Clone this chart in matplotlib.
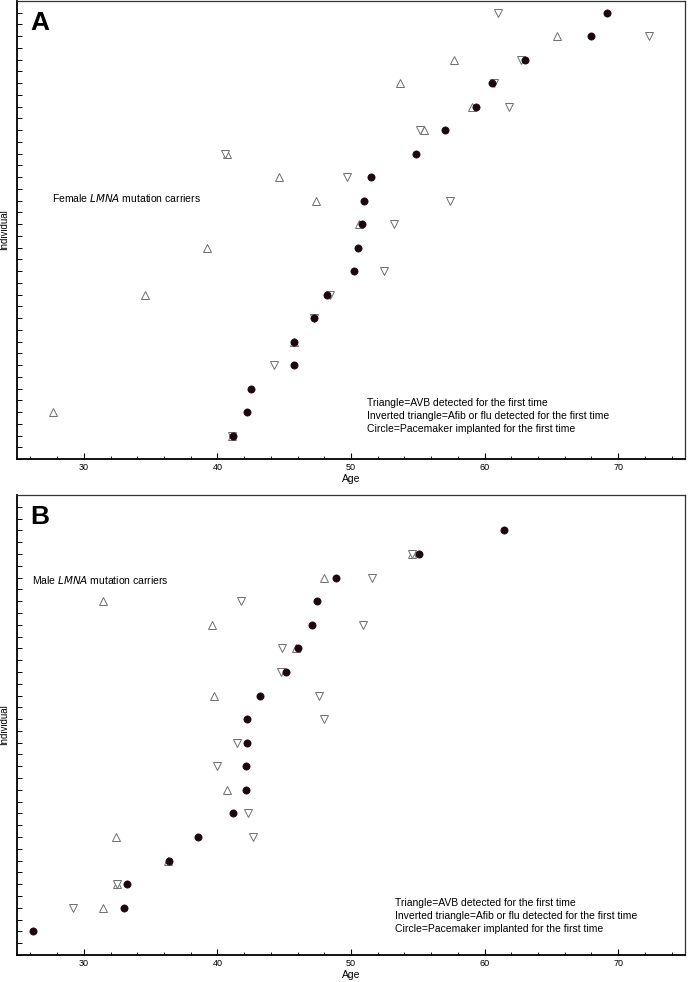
import matplotlib
matplotlib.use("Agg")
import matplotlib.pyplot as plt
from matplotlib.ticker import MultipleLocator

plt.rcParams.update({
    "font.family": ["Liberation Sans", "DejaVu Sans"],
    "font.size": 7.5,
})

# ---- data: individual index (1 = bottom row) and age at first event ----
# Female carriers (panel A)
F_AVB_ID = [1, 2, 5, 7, 9, 10, 11, 12, 13, 14, 15, 16, 17, 18]
F_AVB_AGE = [41.1, 27.7, 45.7, 34.6, 39.2, 50.6, 47.4, 44.6, 40.72, 55.5, 59.06, 53.7, 57.7, 65.4]
F_AFIB_ID = [1, 4, 6, 7, 8, 10, 11, 12, 13, 14, 15, 16, 17, 18, 19]
F_AFIB_AGE = [41.1, 44.2, 47.2, 48.4, 52.5, 53.2, 57.4, 49.7, 40.57, 55.2, 61.8, 60.7, 62.7, 72.3, 61.0]
F_PM_ID = list(range(1, 20))
F_PM_AGE = [41.14, 42.2, 42.5, 45.7, 45.76, 47.2, 48.2, 50.2, 50.5, 50.8,
            51.0, 51.5, 54.9, 57.0, 59.36, 60.55, 63.06, 68.0, 69.17]

# Male carriers (panel B)
M_AVB_ID = [2, 3, 4, 5, 7, 11, 13, 14, 15, 16, 17]
M_AVB_AGE = [31.4, 32.5, 36.3, 32.43, 40.74, 39.73, 45.86, 39.6, 31.4, 47.97, 54.6]
M_AFIB_ID = [2, 3, 5, 6, 8, 9, 10, 11, 12, 13, 14, 15, 16, 17]
M_AFIB_AGE = [29.2, 32.5, 42.66, 42.26, 39.95, 41.44, 48.0, 47.6, 44.74, 44.8, 50.9, 41.8, 51.6, 54.6]
M_PM_ID = list(range(1, 19))
M_PM_AGE = [26.2, 33.0, 33.2, 36.4, 38.56, 41.2, 42.16, 42.16, 42.2, 42.18,
            43.2, 45.14, 46.03, 47.07, 47.45, 48.84, 55.1, 61.47]

PANELS = [
    ("A", "Female", F_AVB_ID, F_AVB_AGE, F_AFIB_ID, F_AFIB_AGE, F_PM_ID, F_PM_AGE),
    ("B", "Male", M_AVB_ID, M_AVB_AGE, M_AFIB_ID, M_AFIB_AGE, M_PM_ID, M_PM_AGE),
]

KEY_LINES = [
    "Triangle=AVB detected for the first time",
    "Inverted triangle=Afib or flu detected for the first time",
    "Circle=Pacemaker implanted for the first time",
]

TRI_EDGE = "#6e6e6e"
DOT = "#1c0610"

fig = plt.figure(figsize=(6.89, 9.82), dpi=100)
ax_a = fig.add_axes([17 / 689, 1 - 459 / 982, 668 / 689, 458 / 982])
ax_b = fig.add_axes([17 / 689, 1 - 955 / 982, 668 / 689, 460 / 982])

# text placement per panel (axes fraction)
label_pos = {"A": (0.052, 0.569), "B": (0.0225, 0.815)}
key_pos = {"A": (0.524, [0.122, 0.094, 0.066]), "B": (0.566, [0.113, 0.085, 0.057])}

for ax, (letter, sex, avb_id, avb_age, af_id, af_age, pm_id, pm_age) in zip([ax_a, ax_b], PANELS):
    ax.plot(avb_age, avb_id, ls="none", marker="^", ms=6, mfc="white",
            mec=TRI_EDGE, mew=0.7, zorder=3)
    ax.plot(af_age, af_id, ls="none", marker="v", ms=6, mfc="white",
            mec=TRI_EDGE, mew=0.7, zorder=4)
    ax.plot(pm_age, pm_id, ls="none", marker="o", ms=5.2, mfc=DOT,
            mec=DOT, mew=0.5, zorder=5)

    ax.set_xlim(25, 75)
    ax.set_ylim(0, 19.5)
    ax.xaxis.set_major_locator(MultipleLocator(10))
    ax.xaxis.set_minor_locator(MultipleLocator(2))
    ax.yaxis.set_major_locator(MultipleLocator(0.5))
    ax.tick_params(axis="x", which="major", direction="in", length=4, width=0.8,
                   labelsize=6.5, pad=3)
    ax.tick_params(axis="x", which="minor", direction="in", length=2, width=0.6)
    ax.tick_params(axis="y", which="major", direction="in", length=3.5, width=0.7,
                   labelleft=False)
    for side in ["left", "bottom"]:
        ax.spines[side].set_linewidth(1.3)
    for side in ["top", "right"]:
        ax.spines[side].set_linewidth(0.9)
        ax.spines[side].set_color("#333333")

    ax.set_xlabel("Age", fontsize=7.5, labelpad=1)
    ax.set_ylabel("Individual", fontsize=7)
    ax.yaxis.set_label_coords(-0.0125, 0.5)

    ax.text(0.02, 0.952, letter, transform=ax.transAxes, fontsize=19,
            fontweight="bold", va="center", ha="left")
    lx, ly = label_pos[letter]
    ax.text(lx, ly, sex + " $\\it{LMNA}$ mutation carriers", transform=ax.transAxes,
            fontsize=7.5, va="center", ha="left")
    kx, kys = key_pos[letter]
    for line, ky in zip(KEY_LINES, kys):
        ax.text(kx, ky, line, transform=ax.transAxes, fontsize=7.5,
                va="center", ha="left")

fig.savefig("out.png", dpi=100, facecolor="white")
